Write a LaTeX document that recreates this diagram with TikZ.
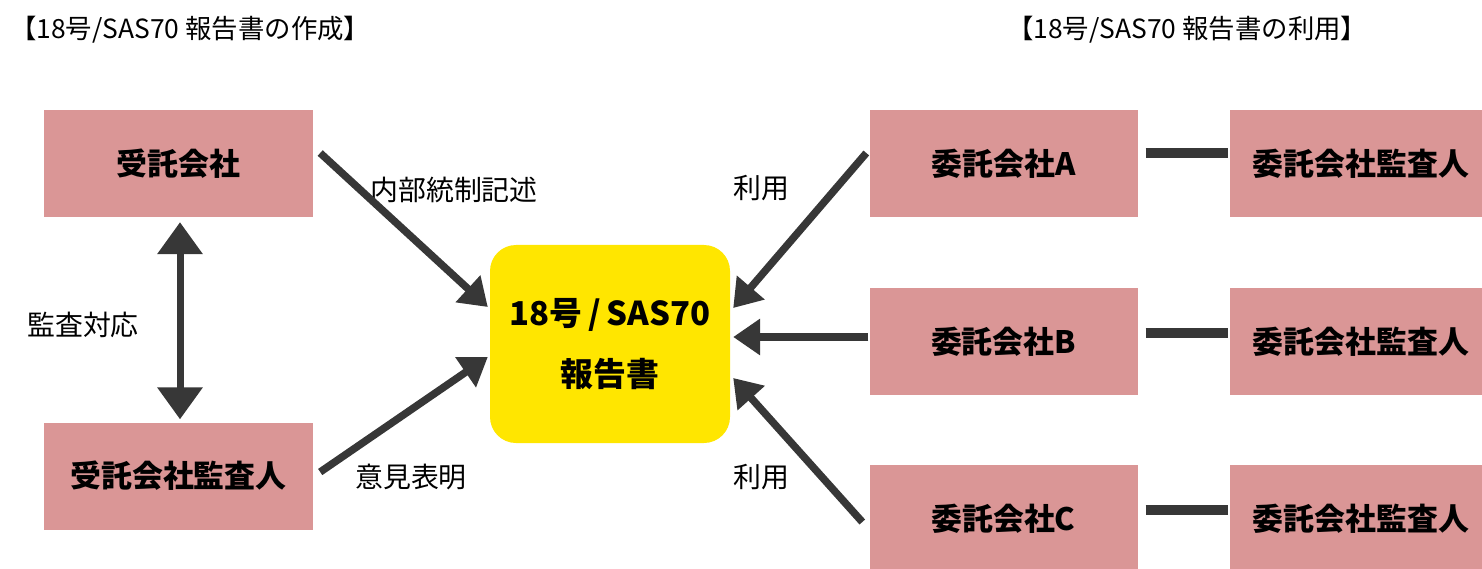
\documentclass[tikz,border=0pt]{standalone}
\usepackage{fontspec}
\setmainfont{Noto Sans CJK JP}
\usetikzlibrary{arrows.meta,calc}
\definecolor{pinkbox}{RGB}{218,150,150}
\definecolor{yellowbox}{RGB}{255,230,0}
\definecolor{arrowgray}{RGB}{55,55,55}
\tikzset{
  pbox/.style={fill=pinkbox, draw=none, inner sep=0pt, minimum width=268bp, minimum height=107bp,
    font=\bfseries\fontsize{31}{36}\selectfont},
  rbox/.style={pbox, minimum width=262bp},
  ybox/.style={fill=yellowbox, draw=none, rounded corners=26bp, inner sep=0pt,
    minimum width=240bp, minimum height=198bp, align=center,
    font=\bfseries\fontsize{33}{61}\selectfont},
  lbl/.style={inner sep=0pt, font=\fontsize{28}{30}\selectfont},
  ttl/.style={inner sep=0pt, anchor=west, font=\fontsize{26.5}{30}\selectfont},
  arr/.style={draw=arrowgray, line width=7.5bp, -{Triangle[length=27bp,width=35bp]}},
  darr/.style={draw=arrowgray, line width=7bp, {Triangle[length=32bp,width=44bp]}-{Triangle[length=32bp,width=44bp]}},
  link/.style={draw=arrowgray, line width=10bp}
}
\begin{document}
\begin{tikzpicture}[x=1bp,y=-1bp]
\useasboundingbox (0,0) rectangle (1482,569);
\clip (0,0) rectangle (1482,569);
% titles
\node[ttl] (t1) at (10,30) {【18号/SAS70 報告書の作成】};
\node[ttl] (t2) at (1007,30) {【18号/SAS70 報告書の利用】};
% left boxes
\node[pbox] (JT) at (178.5,163.5) {受託会社};
\node[pbox] (JTA) at (178.5,476) {受託会社監査人};
% centre
\node[ybox] (R) at (610,344) {18号\,/\,SAS70\\報告書};
% right boxes
\node[pbox] (IA) at (1003.5,163.5) {委託会社A};
\node[pbox] (IB) at (1003.5,341.5) {委託会社B};
\node[pbox] (IC) at (1003.5,518.5) {委託会社C};
\node[rbox] (AA) at (1361,163.5) {委託会社監査人};
\node[rbox] (AB) at (1361,341.5) {委託会社監査人};
\node[rbox] (AC) at (1361,518.5) {委託会社監査人};
% labels
\node[lbl] (l1) at (454,190) {内部統制記述};
\node[lbl] (l2) at (411,477) {意見表明};
\node[lbl] (l3) at (761,188) {利用};
\node[lbl] (l4) at (761,477) {利用};
\node[lbl] (l5) at (83,325) {監査対応};
% connectors
\draw[darr] ($(JT.south)+(1.5,5)$) -- ($(JTA.north)+(1.5,-3)$);
\draw[arr] ($(JT.east)+(7.5,-10.5)$) -- ($(R.west)+(-2,-37)$);
\draw[arr] ($(JTA.east)+(7.5,-4)$) -- ($(R.west)+(-2,13)$);
\draw[arr] ($(IA.west)+(-3,-10.5)$) -- ($(R.east)+(3,-36)$);
\draw[arr] ($(IB.west)+(-1,-4.5)$) -- ($(R.east)+(3,-7)$);
\draw[arr] ($(IC.west)+(-7,3.5)$) -- ($(R.east)+(3,34)$);
\draw[link] ($(IA.east)+(8,-10.5)$) -- ($(AA.west)+(-2,-10.5)$);
\draw[link] ($(IB.east)+(8,-8.5)$) -- ($(AB.west)+(-2,-8.5)$);
\draw[link] ($(IC.east)+(8,-8.5)$) -- ($(AC.west)+(-2,-8.5)$);
\end{tikzpicture}
\end{document}
